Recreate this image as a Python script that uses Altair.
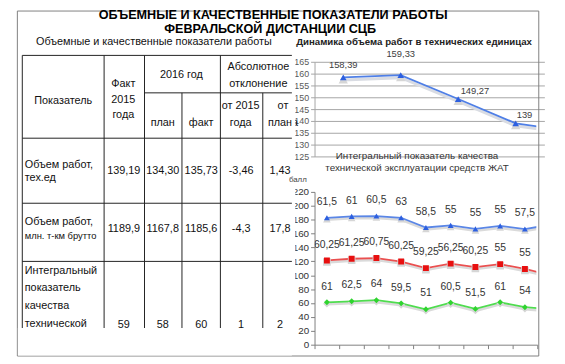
import altair as alt
import pandas as pd

# ---------------- data ----------------
main_title = ["ОБЪЕМНЫЕ И КАЧЕСТВЕННЫЕ ПОКАЗАТЕЛИ РАБОТЫ", "ФЕВРАЛЬСКОЙ ДИСТАНЦИИ СЦБ"]
table_title = "Объемные и качественные показатели работы"

hdr_name = ["Показатель"]
hdr_fact2015 = ["Факт", "2015", "года"]
hdr_2016 = ["2016 год"]
hdr_plan = ["план"]
hdr_fact = ["факт"]
hdr_abs = ["Абсолютное", "отклонение"]
hdr_d2015 = ["от 2015", "года"]
hdr_dplan = ["от", "плана"]

row_names = [["Объем работ,", "тех.ед"],
             ["Объем работ,", "млн. т-км брутто"],
             ["Интегральный", "показатель", "качества", "технической"]]
col_fact2015 = ["139,19", "1189,9", "59"]
col_plan2016 = ["134,30", "1167,8", "58"]
col_fact2016 = ["135,73", "1185,6", "60"]
col_dev2015 = ["-3,46", "-4,3", "1"]
col_devplan = ["1,43", "17,8", "2"]

vol_title = "Динамика объема работ в технических единицах"
vol_points = [1, 2, 3, 4, 5]
vol_values = [158.39, 159.33, 149.27, 139.0, 135.5]
vol_ticks = [125, 130, 135, 140, 145, 150, 155, 160, 165]

q_title = ["Интегральный показатель качества", "технической эксплуатации средств ЖАТ"]
q_unit = "балл"
q_points = [1, 2, 3, 4, 5, 6, 7, 8, 9, 10]
q_green = [61, 62.5, 64, 59.5, 51, 60.5, 51.5, 61, 54, 51]
q_red = [60.25, 61.25, 60.75, 60.25, 59.25, 56.25, 60.25, 55, 55, 49.5]
q_blue = [61.5, 61, 60.5, 63, 58.5, 55, 55, 55, 57.5, 72]
q_ticks = [0, 20, 40, 60, 80, 100, 120, 140, 160, 180, 200, 220]


def fmt(v):
    return f"{v:g}".replace(".", ",")


# ---------------- layout (page pixels) ----------------
# plot area = the two charts' area: page x 319..544, y 8..347
PL, PT = 319, 8
W, H = 225, 339


def gx(p):
    return p - PL


def gy(p):
    return p - PT


FONT = "Liberation Sans"
one = pd.DataFrame({"k": [0]})


def text_at(txt, x, y, size, weight="normal", color="#111", align="center"):
    return alt.Chart(one).mark_text(
        text=txt, fontSize=size, fontWeight=weight, color=color, align=align,
        baseline="middle", font=FONT
    ).encode(x=alt.value(gx(x)), y=alt.value(gy(y)))


def box(x1, y1, x2, y2):
    return alt.Chart(one).mark_rect(fill="white", strokeWidth=0).encode(
        x=alt.value(gx(x1)), x2=alt.value(gx(x2)), y=alt.value(gy(y1)), y2=alt.value(gy(y2)))


# frame
frame = alt.Chart(one).mark_rect(fill="transparent", stroke="#808080", strokeWidth=1).encode(
    x=alt.value(gx(17.5)), x2=alt.value(gx(546.5)), y=alt.value(0.5), y2=alt.value(gy(358.5)))

# table grid
TL, TR, TT, TB = 22, 296, 53, 330
segs = []
for xv in [22, 105, 146, 223]:
    segs.append((xv, TT, xv, TB))
for xv in [184, 266]:
    segs.append((xv, 91, xv, TB))
for yv in [53, 137, 203, 262]:
    segs.append((TL, yv, TR, yv))
segs.append((146, 91, TR, 91))
seg_df = pd.DataFrame([{"x": gx(a) + 0.5, "y": gy(b) + 0.5, "x2": gx(c) + 0.5, "y2": gy(d) + 0.5}
                       for a, b, c, d in segs])
table_lines = alt.Chart(seg_df).mark_rule(color="#222", strokeWidth=1).encode(
    x=alt.X("x:Q", scale=None, axis=None), x2="x2:Q",
    y=alt.Y("y:Q", scale=None, axis=None), y2="y2:Q")

# table text
cells = []


def add(lines, x, y0, step, align="center", size=11):
    for i, t in enumerate(lines):
        cells.append({"t": t, "x": gx(x), "y": gy(y0 + i * step), "a": align, "s": size})


add(hdr_name, 64, 100, 0)
add(hdr_fact2015, 125, 83, 15.5)
add(hdr_2016, 184, 73, 0)
add(hdr_plan, 165, 122, 0)
add(hdr_fact, 204, 122, 0)
add(hdr_abs, 262, 65, 18)
add(hdr_d2015, 244, 105, 17)
add(hdr_dplan, 287, 105, 17)
row_y = [171, 230, 327]
row_first = [165, 223, 272]
row_step = [13, 14, 18]
for r in range(3):
    for i, t in enumerate(row_names[r]):
        add([t], 25, row_first[r] + i * row_step[r], 0, "left", 11 if len(t) < 14 else 9.5)
    for col, xv in zip([col_fact2015, col_plan2016, col_fact2016, col_dev2015, col_devplan],
                       [125.5, 165, 204, 244.5, 284]):
        add([col[r]], xv, row_y[r], 0)
cell_df = pd.DataFrame(cells)
table_text = []
for a in ["center", "left"]:
    for s in sorted(cell_df["s"].unique()):
        sub = cell_df[(cell_df["a"] == a) & (cell_df["s"] == s)]
        if len(sub) == 0:
            continue
        table_text.append(
            alt.Chart(sub).mark_text(
                align=a, baseline="middle", fontSize=float(s), font=FONT, color="#111"
            ).encode(x=alt.X("x:Q", scale=None, axis=None),
                     y=alt.Y("y:Q", scale=None, axis=None), text="t:N"))

covers = [box(296, 48, 299.5, 336), box(18, 330, 296, 358)]

titles = [
    text_at(main_title[0], 277, 13, 12.8, "bold", "#000"),
    text_at(main_title[1], 274, 27, 12.8, "bold", "#000"),
    text_at(table_title, 156, 40, 11, "normal", "#111"),
    text_at(vol_title, 420, 40, 9.8, "bold", "#222"),
    text_at(q_title[0], 423, 156, 10, "normal", "#333"),
    text_at(q_title[1], 423, 168, 10, "normal", "#333"),
    text_at(q_unit, 293, 180, 8, "normal", "#444", align="left"),
]

# ---------------- top chart: volume ----------------
vx = alt.Scale(domain=[0.5, 4.5], range=[gx(319), gx(552.2)], nice=False, zero=False)
vy = alt.Scale(domain=[125, 165], range=[gy(156), gy(60)], nice=False, zero=False)
vol_df = pd.DataFrame({"point": vol_points, "value": vol_values,
                       "label": [fmt(v) for v in vol_values]})
vx_enc = alt.X("point:Q", scale=vx, axis=None)
vy_plain = alt.Y("value:Q", scale=vy, axis=None)
vy_axis = alt.Y("value:Q", scale=vy, axis=alt.Axis(
    orient="left", values=vol_ticks, grid=True, gridColor="#a6a6a6", gridWidth=1, title=None,
    labelFontSize=9, labelColor="#595959", labelFont=FONT, labelPadding=2,
    tickSize=4, tickColor="#a6a6a6", domainColor="#a6a6a6"))
vbase = alt.Chart(vol_df)
vshadow = vbase.mark_line(color="#d9dce3", strokeWidth=3, yOffset=2.5, clip=True).encode(
    x=vx_enc, y=vy_axis)
vline = vbase.mark_line(color="#4f7fe6", strokeWidth=1.8, clip=True).encode(x=vx_enc, y=vy_plain)
vpt_shadow = vbase.mark_point(shape="triangle-up", filled=True, size=90, color="#d6d6d6",
                              opacity=1, yOffset=2, clip=True).encode(x=vx_enc, y=vy_plain)
vpts = vbase.mark_point(shape="triangle-up", filled=True, size=45, color="#2c5fe0",
                        opacity=1, clip=True).encode(x=vx_enc, y=vy_plain)
LABEL_SHIFT = [(0, -13), (0, -21), (17, -8), (9, -8)]
vlabels = []
for i, (dx, dy) in enumerate(LABEL_SHIFT):
    vlabels.append(vbase.transform_filter(alt.datum.point == vol_points[i]).mark_text(
        dx=dx, dy=dy, fontSize=9.5, color="#404040", font=FONT
    ).encode(x=vx_enc, y=vy_plain, text="label:N"))

# ---------------- bottom chart: quality ----------------
qx = alt.Scale(domain=[0.5, 9.5], range=[gx(319), gx(545)], nice=False, zero=False)
qy = alt.Scale(domain=[0, 220], range=[gy(347), gy(192)], nice=False, zero=False)
series_keys = ["s1", "s2", "s3"]
series_vals = [q_green, q_red, q_blue]
rows = []
for order, (key, vals) in enumerate(zip(series_keys, series_vals)):
    for p, v in zip(q_points, vals):
        rows.append({"point": p, "series": key, "order": order, "value": v, "label": fmt(v)})
q_df = pd.DataFrame(rows)
line_colors = ["#4fdc4f", "#ea5050", "#5a86e6"]
mark_colors = ["#2fd42f", "#e80f0f", "#2c5fe0"]
shapes = ["diamond", "square", "triangle-up"]

qbase = alt.Chart(q_df).transform_stack(
    stack="value", groupby=["point"], sort=[alt.SortField("order", order="ascending")],
    as_=["y0", "y1"])
qx_plain = alt.X("point:Q", scale=qx, axis=None)
qy_plain = alt.Y("y1:Q", scale=qy, axis=None)
qaxes = qbase.mark_line(clip=True, strokeWidth=2.5, color="#dadada", yOffset=2).encode(
    x=alt.X("point:Q", scale=qx, axis=alt.Axis(
        orient="bottom", values=[0.5 + i for i in range(10)], labels=False, grid=False,
        title=None, tickSize=4, tickColor="#7f7f7f", domainColor="#7f7f7f")),
    y=alt.Y("y1:Q", scale=qy, axis=alt.Axis(
        orient="left", values=q_ticks, grid=False, title=None,
        labelFontSize=10, labelColor="#333", labelFont=FONT, labelPadding=2,
        tickSize=4, tickColor="#7f7f7f", domainColor="#7f7f7f")),
    detail="series:N")
qlines = qbase.mark_line(clip=True, strokeWidth=1.8).encode(
    x=qx_plain, y=qy_plain,
    color=alt.Color("series:N", scale=alt.Scale(domain=series_keys, range=line_colors), legend=None))
qpt_shadow = qbase.mark_point(filled=True, size=60, color="#d6d6d6", opacity=1,
                              yOffset=1.5, clip=True).encode(
    x=qx_plain, y=qy_plain,
    shape=alt.Shape("series:N", scale=alt.Scale(domain=series_keys, range=shapes), legend=None))
qpts = qbase.mark_point(filled=True, size=36, opacity=1, clip=True).encode(
    x=qx_plain, y=qy_plain,
    color=alt.Color("series:N", scale=alt.Scale(domain=series_keys, range=mark_colors), legend=None),
    shape=alt.Shape("series:N", scale=alt.Scale(domain=series_keys, range=shapes), legend=None))
qlabels = qbase.mark_text(dy=-16, fontSize=10.5, color="#333", font=FONT, clip=True).encode(
    x=qx_plain, y=qy_plain, text="label:N")

chart = alt.layer(
    frame, table_lines, *table_text, *covers, *titles,
    vshadow, vline, vpt_shadow, vpts, *vlabels,
    qaxes, qlines, qpt_shadow, qpts, qlabels
).resolve_scale(
    x="independent", y="independent", color="independent", shape="independent"
).properties(
    width=W, height=H,
    autosize=alt.AutoSizeParams(type="none"),
    padding={"left": PL - 8, "top": 0, "right": 565 - 8 - (PL - 8) - W, "bottom": 16},
).configure_view(strokeWidth=0)

chart.save("out.html", embed_options={"renderer": "svg", "actions": False})
